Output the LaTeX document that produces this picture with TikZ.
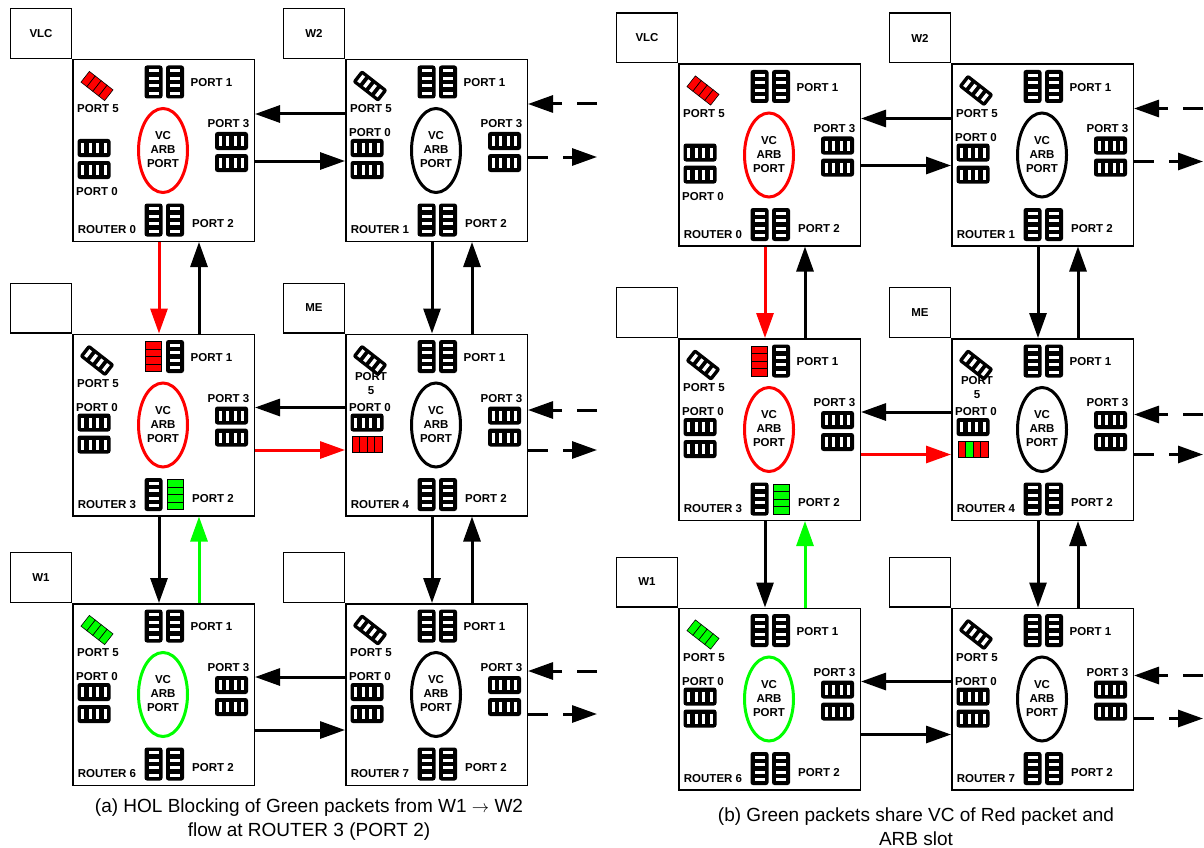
\documentclass[tikz,border=0pt]{standalone}
\usepackage{fontspec}
\setsansfont{Liberation Sans}
\usetikzlibrary{arrows.meta,positioning}

\newcommand*\bufk{k}

\tikzset{
  lab/.style={font=\sffamily\bfseries\fontsize{11.5}{14}\selectfont,inner sep=0pt,align=center},
  router/.style={draw,line width=1.5pt,minimum width=181.5pt,minimum height=181.5pt,inner sep=0pt,anchor=north west},
  tile/.style={draw,line width=1.3pt,minimum width=60.7pt,minimum height=49.7pt,inner sep=0pt,
    font=\sffamily\bfseries\fontsize{11.5}{13}\selectfont},
  link/.style={line width=3pt,-{Triangle[length=25pt,width=17pt]}},
  ext/.style={link,dash pattern=on 20pt off 15pt},
  figcap/.style={font=\sffamily\fontsize{19}{24}\selectfont,align=center},
  vc/.store in=\vccol, pfive/.store in=\pfivecol, pone/.store in=\ponecol,
  ptwo/.store in=\ptwocol, pzero/.store in=\pzerocol,
  zeroy/.store in=\zeroy, fivelab/.store in=\fivelab,
  vc=black, pfive=k, pone=k, ptwo=k, pzero=k, zeroy=74, fivelab={PORT 5},
  % buffer: k = black with slots, else list of four cell colours
  pics/buf/.style={code={%
    \edef\bufcols{#1}%
    \ifx\bufcols\bufk
      \fill[rounded corners=2.5pt] (-16.5,-9) rectangle (16.5,9);
      \foreach \sx in {-11.25,-3.75,3.75,11.25}
        \fill[white] (\sx-1.7,-5) rectangle (\sx+1.7,5);
    \else
      \foreach[count=\ci] \cc in \bufcols
        \filldraw[fill=\cc,draw=black,line width=0.6pt] (7.5*\ci-22.5,-8) rectangle ++(7.5,16);
    \fi
  }},
  pics/router/.style={code={%
    % port 5
    \pic[rotate=-38,yscale=0.85] at (25,27) {buf=\pfivecol};
    \node[lab] (-l5) at (26,50) {\fivelab};
    % port 1
    \pic[rotate=90] at (81.5,23) {buf=\ponecol};
    \pic[rotate=90] at (103,23) {buf=k};
    \node[lab,anchor=west] (-l1) at (118.5,24) {PORT 1};
    % port 3
    \node[lab] (-l3) at (156.5,65) {PORT 3};
    \pic at (159.5,82) {buf=k};
    \pic at (159.5,104) {buf=k};
    % port 0
    \pic at (22,89) {buf=k};
    \pic at (22,111) {buf=\pzerocol};
    \node[lab] (-l0) at (25,\zeroy) {PORT 0};
    % port 2
    \pic[rotate=90] at (81.5,161) {buf=k};
    \pic[rotate=90] at (103,161) {buf=\ptwocol};
    \node[lab,anchor=west] (-l2) at (120,165) {PORT 2};
    % arbiter
    \draw[line width=3pt,draw=\vccol] (91,91.5) ellipse [x radius=24.5pt,y radius=42pt];
    \node[lab] (-vc) at (91,91) {VC\\ARB\\PORT};
    \node[lab] (-id) at (35,171) {#1};
  }},
}

\begin{document}
\begin{tikzpicture}[x=1pt,y=-1pt]
\useasboundingbox (0,0) rectangle (1204,848);

\foreach \p/\dx/\dy/\mix in {a/0/0/red,b/606/4.5/green}{
\begin{scope}[shift={(\dx,\dy)}]
% routers
\node[router] (\p0) at (72,59) {};
\node[router] (\p1) at (345,59) {};
\node[router] (\p3) at (72,333.5) {};
\node[router] (\p4) at (345,333.5) {};
\node[router] (\p6) at (72,603) {};
\node[router] (\p7) at (345,603) {};
% attached cores
\node[tile,above left=0pt of \p0.north west] (\p0t) {VLC};
\node[tile,above left=0pt of \p1.north west] (\p1t) {W2};
\node[tile,above left=0pt of \p3.north west] (\p3t) {};
\node[tile,above left=0pt of \p4.north west] (\p4t) {ME};
\node[tile,above left=0pt of \p6.north west] (\p6t) {W1};
\node[tile,above left=0pt of \p7.north west] (\p7t) {};
% router insides
\pic[vc=red,pfive={red,red,red,red},zeroy=133] (\p0i) at (\p0.north west) {router={ROUTER 0}};
\pic (\p1i) at (\p1.north west) {router={ROUTER 1}};
\pic[vc=red,pone={red,red,red,red},ptwo={green,green,green,green}] (\p3i) at (\p3.north west) {router={ROUTER 3}};
\pic[pzero={red,\mix,red,red},fivelab={PORT\\5}] (\p4i) at (\p4.north west) {router={ROUTER 4}};
\pic[vc=green,pfive={green,green,green,green}] (\p6i) at (\p6.north west) {router={ROUTER 6}};
\pic (\p7i) at (\p7.north west) {router={ROUTER 7}};
% row 1
\draw[link] ([yshift=-55pt]\p1.north west) -- ([yshift=-55pt]\p0.north east);
\draw[link] ([yshift=-102pt]\p0.north east) -- ([yshift=-102pt]\p1.north west);
\coordinate (\p1in) at ([xshift=69pt,yshift=-45pt]\p1.north east);
\coordinate (\p1out) at ([xshift=69pt,yshift=-98pt]\p1.north east);
\draw[ext] (\p1in) -- ([yshift=-45pt]\p1.north east);
\draw[ext] ([yshift=-98pt]\p1.north east) -- (\p1out);
% rows 1-2
\draw[link,red] ([xshift=87pt]\p0.south west) -- ([xshift=87pt]\p3.north west);
\draw[link] ([xshift=127pt]\p3.north west) -- ([xshift=127pt]\p0.south west);
\draw[link] ([xshift=87pt]\p1.south west) -- ([xshift=87pt]\p4.north west);
\draw[link] ([xshift=127pt]\p4.north west) -- ([xshift=127pt]\p1.south west);
% row 2
\draw[link] ([yshift=-74pt]\p4.north west) -- ([yshift=-74pt]\p3.north east);
\draw[link,red] ([yshift=-116.5pt]\p3.north east) -- ([yshift=-116.5pt]\p4.north west);
\coordinate (\p4in) at ([xshift=69pt,yshift=-76.5pt]\p4.north east);
\coordinate (\p4out) at ([xshift=69pt,yshift=-116.5pt]\p4.north east);
\draw[ext] (\p4in) -- ([yshift=-76.5pt]\p4.north east);
\draw[ext] ([yshift=-116.5pt]\p4.north east) -- (\p4out);
% rows 2-3
\draw[link] ([xshift=87pt]\p3.south west) -- ([xshift=87pt]\p6.north west);
\draw[link,green] ([xshift=127pt]\p6.north west) -- ([xshift=127pt]\p3.south west);
\draw[link] ([xshift=87pt]\p4.south west) -- ([xshift=87pt]\p7.north west);
\draw[link] ([xshift=127pt]\p7.north west) -- ([xshift=127pt]\p4.south west);
% row 3
\draw[link] ([yshift=-74pt]\p7.north west) -- ([yshift=-74pt]\p6.north east);
\draw[link] ([yshift=-127pt]\p6.north east) -- ([yshift=-127pt]\p7.north west);
\coordinate (\p7in) at ([xshift=69pt,yshift=-68pt]\p7.north east);
\coordinate (\p7out) at ([xshift=69pt,yshift=-111pt]\p7.north east);
\draw[ext] (\p7in) -- ([yshift=-68pt]\p7.north east);
\draw[ext] ([yshift=-111pt]\p7.north east) -- (\p7out);
\end{scope}
}

% captions
\node[figcap] (capa) at (309,820) {(a) HOL Blocking of Green packets from W1 $\rightarrow$ W2\\flow at ROUTER 3 (PORT 2)};
\node[figcap] (capb) at (916,826.5) {(b) Green packets share VC of Red packet and\\ARB slot};
\end{tikzpicture}
\end{document}
